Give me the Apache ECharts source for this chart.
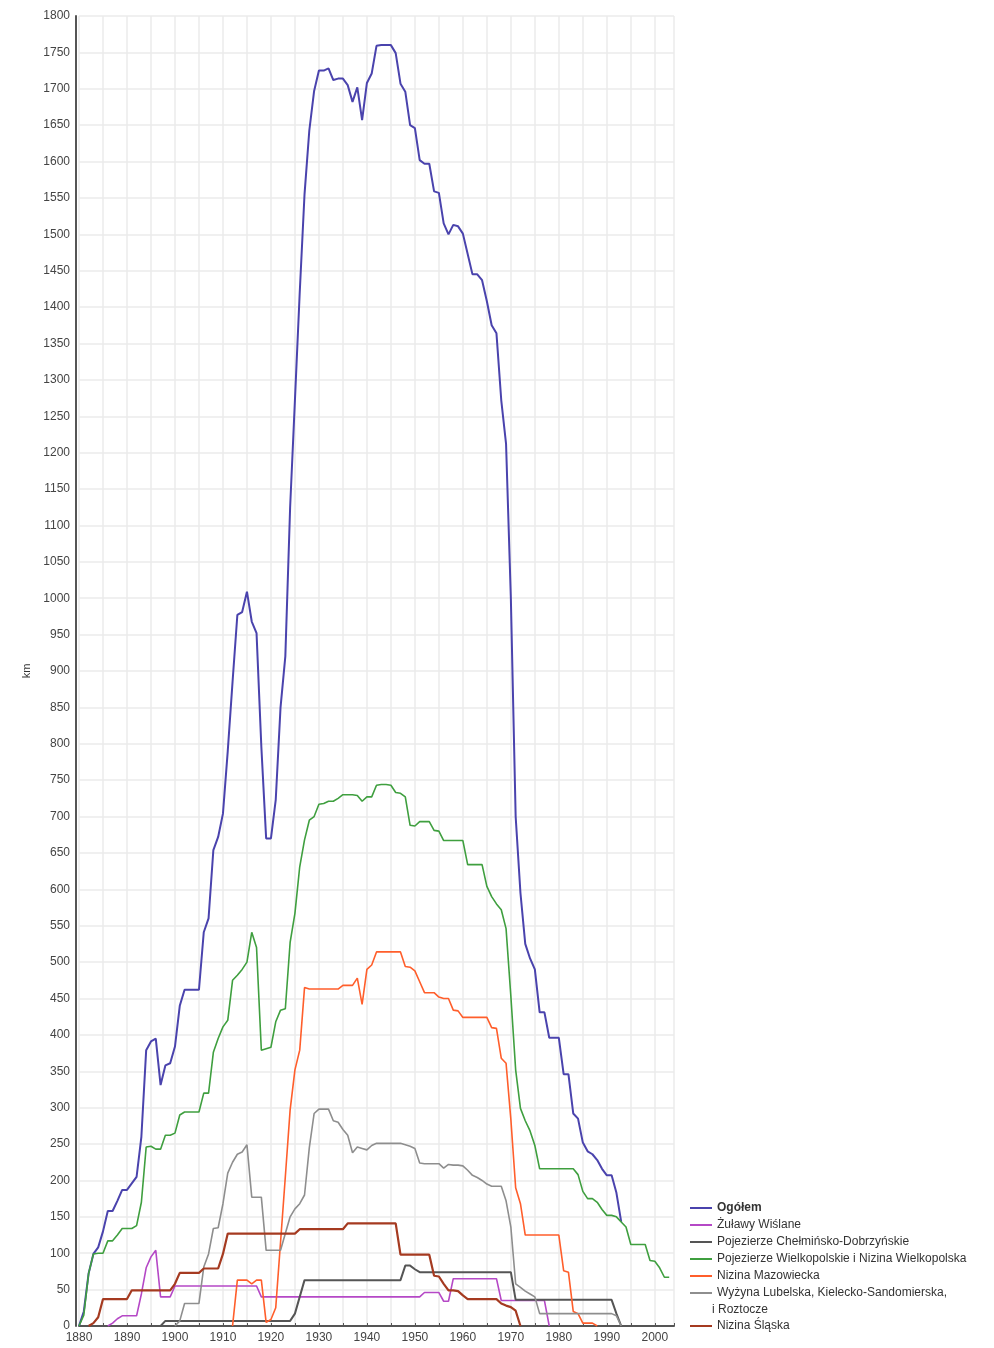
<!DOCTYPE html>
<html><head><meta charset="utf-8">
<script src="https://cdn.jsdelivr.net/npm/echarts@6/dist/echarts.min.js"></script>
<style>html,body{margin:0;padding:0;background:#fff}#c{width:994px;height:1348px}</style>
</head><body><div id="c"></div><script>
// ---- data (km per year) ----
const names = ['Ogółem', 'Żuławy Wiślane', 'Pojezierze Chełmińsko-Dobrzyńskie',
  'Pojezierze Wielkopolskie i Nizina Wielkopolska', 'Nizina Mazowiecka',
  'Wyżyna Lubelska, Kielecko-Sandomierska, i Roztocze', 'Nizina Śląska'];
const colors = ['#4a43ad', '#b548c6', '#555555', '#3f9f3f', '#ff5e2b', '#8e8e8e', '#a53a20'];

const ogolemStart = 1880;
const ogolem = [0,20,72,99,108,130,158,158,172,187, 187,196,205,260,379,391,395,331,358,361,
  384,440,462,462,462,462,541,560,654,672, 704,790,885,977,981,1009,968,952,796,670,
  670,723,850,920,1125,1272,1420,1555,1643,1697, 1725,1725,1728,1712,1714,1714,1705,1682,1702,1657,
  1708,1721,1759,1760,1760,1760,1749,1707,1696,1650, 1646,1602,1597,1597,1559,1557,1515,1500,1513,1511,
  1501,1473,1445,1445,1437,1408,1375,1364,1272,1212, 1000,700,595,525,505,490,431,431,396,396,
  396,346,346,292,285,252,240,236,228,216, 207,207,183,143];

const zulawyStart = 1886;
const zulawy = [0,4,10,14,14,14,14,44,80,95, 104,40,40,40,55,55,55,55,55,55,
  55,55,55,55,55,55,55,55,55,55, 55,55,40,40,40,40,40,40,40,40,
  40,40,40,40,40,40,40,40,40,40, 40,40,40,40,40,40,40,40,40,40,
  40,40,40,40,40,40,46,46,46,46, 34,34,65,65,65,65,65,65,65,65,
  65,65,35,35,35,35,35,35,35,35, 35,35,0];

const chelmStart = 1897;
const chelm = [0,7,7,7,7,7,7,7,7,7, 7,7,7,7,7,7,7,7,7,7,
  7,7,7,7,7,7,7,7,17,40, 63,63,63,63,63,63,63,63,63,63,
  63,63,63,63,63,63,63,63,63,63, 63,83,83,78,74,74,74,74,74,74,
  74,74,74,74,74,74,74,74,74,74, 74,74,74,74,36,36,36,36,36,36,
  36,36,36,36,36,36,36,36,36,36, 36,36,36,36,36,17,0];

const wlkpStart = 1880;
const wlkp = [0,15,72,99,100,100,117,117,125,134, 134,134,138,170,246,247,243,243,262,262,
  265,290,294,294,294,294,320,320,376,395, 411,420,475,482,490,500,541,520,379,381,
  383,418,434,436,527,567,631,668,695,700, 717,718,721,721,725,730,730,730,729,721,
  727,727,743,744,744,743,733,732,727,688, 687,693,693,693,681,680,667,667,667,667,
  667,634,634,634,634,604,590,580,572,546, 453,352,299,282,268,248,216,216,216,216,
  216,216,216,216,208,185,175,175,170,160, 152,152,150,143,136,112,112,112,112,90,
  89,80,67,67];

const mazStart = 1912;
const maz = [0,63,63,63,58,63,63,5,9,25, 115,205,297,352,379,465,463,463,463,463,
  463,463,463,468,468,468,478,442,490,496, 514,514,514,514,514,514,494,493,488,473,
  458,458,458,452,450,450,434,433,424,424, 424,424,424,424,410,409,368,361,284,190,
  168,125,125,125,125,125,125,125,125,76, 74,20,17,4,4,4,0];

const lubStart = 1900;
const lub = [0,7,31,31,31,31,81,99,134,135, 168,210,225,236,239,249,177,177,177,104,
  104,104,104,127,150,161,168,180,245,292, 298,298,298,282,280,270,262,238,246,244,
  242,248,251,251,251,251,251,251,249,247, 244,224,223,223,223,223,217,222,221,221,
  220,214,207,204,200,195,192,192,192,172, 136,58,53,48,44,40,17,17,17,17,
  17,17,17,17,17,17,17,17,17,17, 17,17,14,0];

const slaskStart = 1882;
const slask = [0,4,12,37,37,37,37,37,37,49, 49,49,49,49,49,49,49,49,58,73,
  73,73,73,73,79,79,79,79,99,127, 127,127,127,127,127,127,127,127,127,127,
  127,127,127,127,133,133,133,133,133,133, 133,133,133,133,141,141,141,141,141,141,
  141,141,141,141,141,98,98,98,98,98, 98,98,69,68,58,49,49,48,42,37,
  37,37,37,37,37,37,31,28,26,21, 0];

const yearTickLabels = [1880,1890,1900,1910,1920,1930,1940,1950,1960,1970,1980,1990,2000];

function pairs(start, vals) { return vals.map((v, i) => [start + i, v]); }

const seriesData = [
  pairs(ogolemStart, ogolem), pairs(zulawyStart, zulawy), pairs(chelmStart, chelm),
  pairs(wlkpStart, wlkp), pairs(mazStart, maz), pairs(lubStart, lub), pairs(slaskStart, slask)
];
const widths = [2, 1.6, 2, 1.6, 1.6, 1.6, 2.2];

const FONT = '"Liberation Sans", Arial, sans-serif';

const chart = echarts.init(document.getElementById('c'), null, {renderer: 'canvas'});
chart.setOption({
  animation: false,
  backgroundColor: '#ffffff',
  grid: {left: 79, right: 320, top: 16, bottom: 22, containLabel: false},
  xAxis: {
    type: 'value', min: 1880, max: 2004, interval: 5,
    axisLine: {show: true, lineStyle: {color: '#555', width: 2}},
    axisTick: {show: true, inside: true, length: 3, lineStyle: {color: '#555', width: 1}},
    axisLabel: {
      fontSize: 12, color: '#444', fontFamily: FONT, margin: 6,
      formatter: v => yearTickLabels.indexOf(v) >= 0 ? String(v) : ''
    },
    splitLine: {show: true, lineStyle: {color: '#ebebeb', width: 1.5}}
  },
  yAxis: {
    type: 'value', min: 0, max: 1800, interval: 50, offset: 3,
    name: 'km', nameLocation: 'middle', nameGap: 40, nameRotate: 90,
    nameTextStyle: {fontSize: 11, color: '#333', fontFamily: FONT},
    axisLine: {show: true, lineStyle: {color: '#555', width: 2}},
    axisTick: {show: false},
    axisLabel: {fontSize: 12, color: '#444', fontFamily: FONT, margin: 6,
      formatter: v => String(v)},
    splitLine: {show: true, lineStyle: {color: '#ebebeb', width: 1.5}}
  },
  legend: [{
    data: names.slice(0, 6), orient: 'vertical', left: 685, top: 1194.5,
    itemWidth: 22, itemHeight: 2, itemGap: 0, icon: 'rect', selectedMode: false,
    textStyle: {fontSize: 12, color: '#333', fontFamily: FONT, lineHeight: 17,
      rich: {b: {fontSize: 12, fontWeight: 'bold', color: '#333', fontFamily: FONT, lineHeight: 17}}},
    formatter: n => n === 'Ogółem' ? '{b|Ogółem}' :
      (n.indexOf('Wyżyna') === 0 ? 'Wyżyna Lubelska, Kielecko-Sandomierska,' : n)
  }, {
    data: [names[6]], orient: 'vertical', left: 685, top: 1312.5,
    itemWidth: 22, itemHeight: 2, itemGap: 0, icon: 'rect', selectedMode: false,
    textStyle: {fontSize: 12, color: '#333', fontFamily: FONT, lineHeight: 17}
  }],
  graphic: [{
    type: 'text', left: 712, top: 1304,
    style: {text: 'i Roztocze', fontSize: 12, fontFamily: FONT, fill: '#333'}
  }],
  series: names.map((n, i) => ({
    name: n, type: 'line', data: seriesData[i], showSymbol: false, symbol: 'none',
    lineStyle: {color: colors[i], width: widths[i]}, itemStyle: {color: colors[i]},
    emphasis: {disabled: true}
  }))
});
</script></body></html>
